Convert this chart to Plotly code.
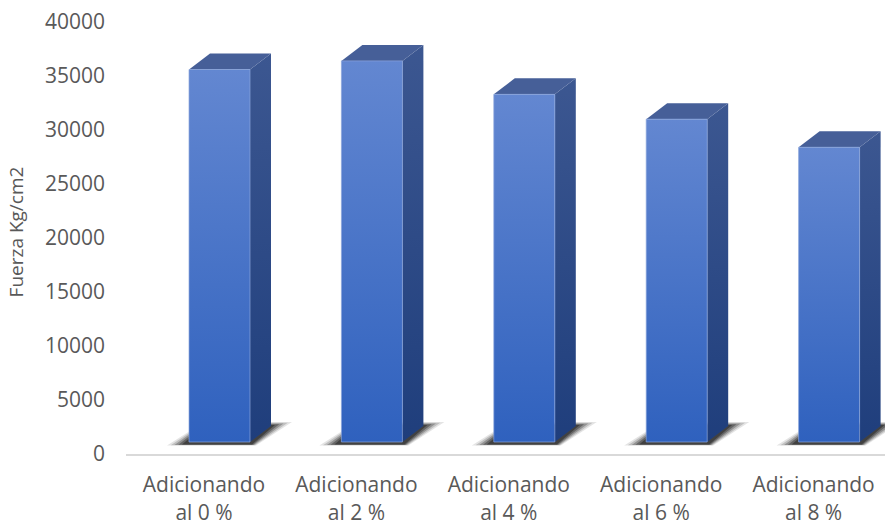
import plotly.graph_objects as go

categories = ["Adicionando<br>al 0 %", "Adicionando<br>al 2 %", "Adicionando<br>al 4 %",
              "Adicionando<br>al 6 %", "Adicionando<br>al 8 %"]
fuerza = [35600, 36400, 33300, 31000, 28400]
y_ticks = [0, 5000, 10000, 15000, 20000, 25000, 30000, 35000, 40000]

# pseudo-3D geometry (axis units)
PX_X = 152.4          # px per category
PX_Y = 10.8 / 1000    # px per value unit
OFF = 15.5 / PX_X     # bar front shifted right of its label
W = 61 / PX_X         # front face width
DX = 21 / PX_X        # depth, horizontal
DY = 16 / PX_Y        # depth, vertical
FLOOR = 12 / PX_Y     # bar base above the axis line

TEXT = "#595959"
FONT = "Open Sans"

fig = go.Figure()

# soft floor shadows: stacked translucent parallelograms growing out of the footprint
OUT_X, OUT_Y = [-22, 67, 103, 15], [-3.5, -3.5, 20, 20]
IN_X, IN_Y = [-7, 63, 86, 16], [-2.5, -2.5, 17, 17]
for i, v in enumerate(fuerza):
    xl = i + OFF - W / 2
    for t, a in [(1.0, 0.12), (0.75, 0.18), (0.5, 0.28), (0.25, 0.38), (0.0, 0.5)]:
        qx = [a_ + t * (b_ - a_) for a_, b_ in zip(IN_X, OUT_X)]
        qy = [a_ + t * (b_ - a_) for a_, b_ in zip(IN_Y, OUT_Y)]
        sx = [xl + q / PX_X for q in qx] + [xl + qx[0] / PX_X]
        sy = [FLOOR + q / PX_Y for q in qy] + [FLOOR + qy[0] / PX_Y]
        fig.add_trace(go.Scatter(
            x=sx, y=sy, mode="lines", line=dict(width=0), fill="toself",
            fillcolor=f"rgba(30,30,30,{a})", hoverinfo="skip", showlegend=False))

for i, v in enumerate(fuerza):
    xl = i + OFF - W / 2
    xr = xl + W
    # side face
    fig.add_trace(go.Scatter(
        x=[xr, xr + DX, xr + DX, xr, xr], y=[FLOOR, FLOOR + DY, v + DY, v, FLOOR],
        mode="lines", line=dict(width=0), fill="toself",
        fillgradient=dict(type="vertical", colorscale=[[0, "#1f3e7c"], [1, "#3c5791"]]),
        hoverinfo="skip", showlegend=False))
    # top face
    fig.add_trace(go.Scatter(
        x=[xl, xr, xr + DX, xl + DX, xl], y=[v, v, v + DY, v + DY, v],
        mode="lines", line=dict(width=0), fill="toself", fillcolor="#465f98",
        hoverinfo="skip", showlegend=False))
    # front face
    fig.add_trace(go.Scatter(
        x=[xl, xr, xr, xl, xl], y=[FLOOR, FLOOR, v, v, FLOOR],
        mode="lines", line=dict(width=1, color="rgba(140,165,220,0.7)"), fill="toself",
        fillgradient=dict(type="vertical", colorscale=[[0, "#2f61be"], [1, "#6387d1"]]),
        name=categories[i].replace("<br>", " "), hovertemplate="%{fullData.name}<extra></extra>",
        showlegend=False))

fig.update_layout(
    width=885, height=525,
    margin=dict(l=126, r=0, t=10, b=71),
    paper_bgcolor="white", plot_bgcolor="white",
    font=dict(family=FONT, color=TEXT, size=21),
    showlegend=False,
    xaxis=dict(range=[-78 / PX_X, -78 / PX_X + 759 / PX_X],
               tickvals=list(range(len(categories))), ticktext=categories,
               showgrid=False, zeroline=False, showline=True, linecolor="#d9d9d9", linewidth=2,
               ticks="", tickfont=dict(size=21, color=TEXT), ticklabelstandoff=11),
    yaxis=dict(range=[0, 444 / PX_Y], tickvals=y_ticks, ticktext=[str(t) for t in y_ticks],
               showgrid=False, zeroline=False, showline=False, ticks="",
               tickfont=dict(size=21, color=TEXT), ticklabelstandoff=20,
               title=dict(text="Fuerza Kg/cm2", font=dict(size=19, color=TEXT), standoff=16)),
)

fig.write_html("out.html")
